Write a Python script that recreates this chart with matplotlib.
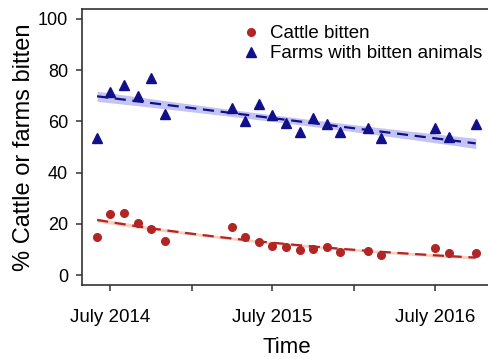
import numpy as np
import pandas as pd
import matplotlib
matplotlib.use("Agg")
import matplotlib.pyplot as plt

plt.rcParams['font.family'] = ['Liberation Sans', 'DejaVu Sans']

# monthly survey dates and observed percentages
months = ['2014-06', '2014-07', '2014-08', '2014-09', '2014-10', '2014-11',
          '2015-04', '2015-05', '2015-06', '2015-07', '2015-08', '2015-09',
          '2015-10', '2015-11', '2015-12', '2016-02', '2016-03', '2016-07',
          '2016-08', '2016-10']
cattle = [14.7, 23.8, 24.1, 20.4, 17.8, 13.1, 18.9, 14.7, 13.0, 11.2,
          10.8, 9.8, 10.2, 10.8, 9.1, 9.5, 7.9, 10.4, 8.5, 8.7]
farms = [53.6, 71.6, 74.1, 69.9, 76.8, 62.8, 65.2, 60.0, 66.8, 62.6,
         59.2, 55.9, 61.5, 59.1, 55.7, 57.3, 53.4, 57.3, 53.8, 59.0]

# fitted trends: value at first and last survey
farm_trend = [69.8, 51.4]      # linear
farm_band = [2.0, 1.3, 2.0]    # half width of the band: start, middle, end
cattle_trend = [21.5, 6.8]     # exponential decline
cattle_band = [0.8, 0.5, 0.6]

dates = pd.to_datetime(months)

RED = '#b22525'
BLUE = '#10108a'

t = (dates - dates[0]).days.values.astype(float)
u = np.linspace(0, 1, 200)
dd = dates[0] + pd.to_timedelta(u * t.max(), unit='D')


def band_shape(b, u):
    # widens away from the centre of the range
    s, m, e = b
    return np.where(u < 0.5, m + (s - m) * (1 - 2 * u) ** 2,
                    m + (e - m) * (2 * u - 1) ** 2)


f_fit = farm_trend[0] + (farm_trend[1] - farm_trend[0]) * u
c_fit = cattle_trend[0] * (cattle_trend[1] / cattle_trend[0]) ** u
f_bw = band_shape(farm_band, u)
c_bw = band_shape(cattle_band, u)

fig = plt.figure(figsize=(4.89, 3.59), dpi=100)
ax = fig.add_axes([0.1677, 0.2061, 0.836, 0.769])

ax.fill_between(dd, f_fit - f_bw, f_fit + f_bw, color='#c4c4f2', lw=0)
ax.fill_between(dd, c_fit - c_bw, c_fit + c_bw, color='#f5cfc0', lw=0)
ax.plot(dd, f_fit, color=BLUE, ls=(0, (5, 3)), lw=1.6)
ax.plot(dd, c_fit, color=RED, ls=(0, (5, 3)), lw=1.6)

ax.plot(dates, cattle, 'o', color=RED, ms=5.5, label='Cattle bitten')
ax.plot(dates, farms, '^', color=BLUE, ms=6.5, label='Farms with bitten animals')

ax.set_ylim(-3.9, 103.9)
ax.set_xlim(pd.Timestamp('2014-04-28'), pd.Timestamp('2016-11-04'))
ax.set_yticks([0, 20, 40, 60, 80, 100])
ticks = pd.to_datetime(['2014-07-01', '2015-01-01', '2015-07-01',
                        '2016-01-01', '2016-07-01'])
ax.set_xticks(ticks)
ax.set_xticklabels(['July 2014', '', 'July 2015', '', 'July 2016'])
ax.tick_params(axis='both', direction='out', length=4, width=1.1,
               color='#333333', labelsize=13)
ax.tick_params(axis='x', pad=13, labelsize=13.5)
ax.tick_params(axis='y', pad=6)
for s in ax.spines.values():
    s.set_color('#333333')
    s.set_linewidth(1.2)

ax.set_xlabel('Time', fontsize=16, labelpad=8)
ax.set_ylabel('% Cattle or farms bitten', fontsize=17, labelpad=2)

ax.legend(loc='upper right', bbox_to_anchor=(1.006, 0.982), frameon=False,
          fontsize=13.5, handletextpad=0.5, borderaxespad=0.2,
          labelspacing=0.15, handlelength=1.0)

fig.savefig('out.png', dpi=100)
